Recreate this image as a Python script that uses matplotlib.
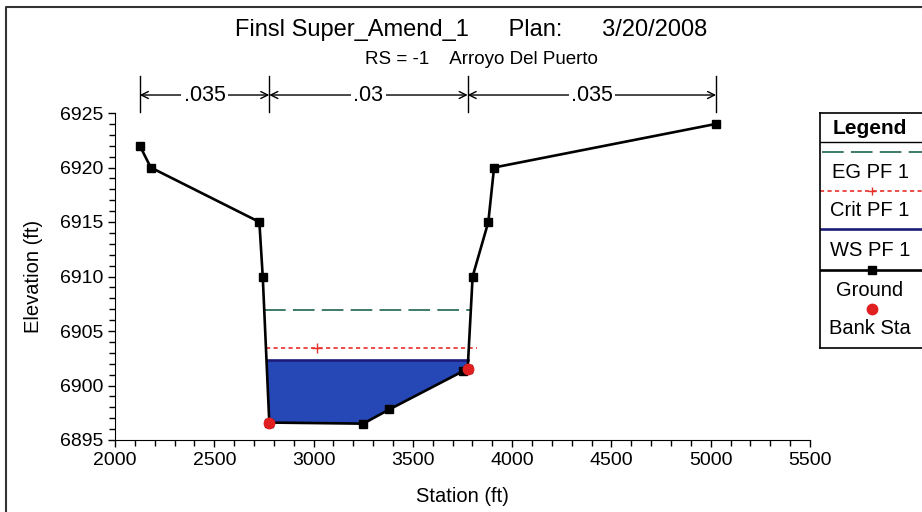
import numpy as np
import matplotlib.pyplot as plt
from matplotlib.ticker import MultipleLocator

plt.rcParams['font.family'] = ['Liberation Sans', 'DejaVu Sans']

# cross section ground points (station ft, elevation ft)
station = [2125, 2180, 2727, 2744, 2777, 3250, 3381, 3751, 3776, 3801, 3880, 3909, 5027]
elev = [6922.0, 6920.0, 6915.0, 6910.0, 6896.6, 6896.5, 6897.8, 6901.3, 6901.5, 6910.0, 6915.0, 6920.0, 6924.0]

bank_sta = [2777, 3776]
bank_elev = [6896.6, 6901.5]

ws_pf1 = 6902.3
crit_pf1 = 6903.4
eg_pf1 = 6906.9
crit_mark_sta = 3015

n_bounds = [2125, 2777, 3776, 5027]
n_values = ['.035', '.03', '.035']

st = np.array(station, dtype=float)
el = np.array(elev, dtype=float)


def wet_limits(level):
    # walk outward from the thalweg until the ground rises above the level
    i0 = int(np.argmin(el))
    i = i0
    while i > 0 and el[i - 1] < level:
        i -= 1
    xl = np.interp(level, [el[i], el[i - 1]], [st[i], st[i - 1]])
    j = i0
    while j < len(el) - 1 and el[j + 1] < level:
        j += 1
    xr = np.interp(level, [el[j], el[j + 1]], [st[j], st[j + 1]])
    return xl, xr


W, H = 922, 512
fig = plt.figure(figsize=(W / 100, H / 100), dpi=100)
ax = fig.add_axes([115 / W, 1 - 440 / H, 695 / W, 327 / H])

# water fill under the WS line
xs = np.linspace(st[0], st[-1], 3000)
gs = np.interp(xs, st, el)
ax.fill_between(xs, gs, ws_pf1, where=gs < ws_pf1, color='#2548b6', lw=0, zorder=1)

wl, wr = wet_limits(ws_pf1)
ax.plot([wl, wr], [ws_pf1, ws_pf1], color='#1c1c78', lw=1.9, zorder=3)

cl, cr = wet_limits(crit_pf1)
ax.plot([cl, cr + 40], [crit_pf1, crit_pf1], color='#e8302a', lw=1.2,
        linestyle=(0, (2.5, 2)), zorder=3)
ax.plot([crit_mark_sta], [crit_pf1], marker='+', color='#e8302a', ms=7, mew=1, zorder=3)

el_, er_ = wet_limits(eg_pf1)
ax.plot([el_, er_], [eg_pf1, eg_pf1], color='#2f6f5f', lw=1.3,
        linestyle=(0, (12, 4)), zorder=3)

ax.plot(station, elev, color='black', lw=1.9, marker='s', ms=5.5, zorder=4)
ax.plot(bank_sta, bank_elev, 'o', color='#e02020', ms=7.5, zorder=5)

ax.set_xlim(2000, 5500)
ax.set_ylim(6895, 6925)
ax.xaxis.set_major_locator(MultipleLocator(500))
ax.xaxis.set_minor_locator(MultipleLocator(100))
ax.yaxis.set_major_locator(MultipleLocator(5))
ax.yaxis.set_minor_locator(MultipleLocator(1))
ax.tick_params(which='both', direction='out', labelsize=14, width=1)
ax.tick_params(which='major', length=5)
ax.tick_params(which='minor', length=4)
for s in ['top', 'right']:
    ax.spines[s].set_visible(False)
ax.set_xlabel('Station (ft)', fontsize=14.5, labelpad=13)
ax.set_ylabel('Elevation (ft)', fontsize=14.5, labelpad=12)

# Manning's n regions above the plot
tr = ax.get_xaxis_transform()
for b in n_bounds:
    ax.plot([b, b], [1.003, 1.113], transform=tr, color='black', lw=1, clip_on=False)
for a, b, n in zip(n_bounds[:-1], n_bounds[1:], n_values):
    ax.annotate('', xy=(a, 1.055), xytext=(b, 1.055), xycoords=tr, textcoords=tr,
                arrowprops=dict(arrowstyle='<->,head_length=0.5,head_width=0.25',
                                lw=1, color='black', shrinkA=0, shrinkB=0))
    ax.text((a + b) / 2, 1.055, n, transform=tr, ha='center', va='center',
            fontsize=15.5, bbox=dict(fc='white', ec='none', pad=1.5))

fig.text(471 / W, 1 - 30 / H, 'Finsl Super_Amend_1      Plan:      3/20/2008',
         ha='center', va='center', fontsize=17)
fig.text(481 / W, 1 - 59 / H, 'RS = -1    Arroyo Del Puerto',
         ha='center', va='center', fontsize=13.5)

# outer frame
frame = fig.add_axes([0, 0, 1, 1], zorder=-1)
frame.set_xlim(0, W)
frame.set_ylim(H, 0)
frame.axis('off')
frame.plot([6, 6, W], [H, 7, 7], color='#333333', lw=1.5)

# legend box
lg = fig.add_axes([820 / W, 1 - 348 / H, 110 / W, 235 / H])
lg.set_xlim(820, 930)
lg.set_ylim(348, 113)
lg.set_xticks([])
lg.set_yticks([])
for s in lg.spines.values():
    s.set_linewidth(1.2)
cx = 870
lfs = 14.5
lg.text(cx, 128, 'Legend', ha='center', va='center', fontsize=15, fontweight='bold')
lg.plot([820, 930], [142, 142], color='black', lw=1)
lg.plot([822, 925], [152, 152], color='#2f6f5f', lw=1.3, linestyle=(0, (12, 4)))
lg.text(cx, 172, 'EG PF 1', ha='center', va='center', fontsize=lfs)
lg.plot([820, 925], [191, 191], color='#e8302a', lw=1.2, linestyle=(0, (2.5, 2)))
lg.plot([cx + 2], [191], marker='+', color='#e8302a', ms=6)
lg.text(cx, 210, 'Crit PF 1', ha='center', va='center', fontsize=lfs)
lg.plot([820, 925], [229, 229], color='#1c1c78', lw=1.9)
lg.text(cx, 250, 'WS PF 1', ha='center', va='center', fontsize=lfs)
lg.plot([820, 925], [270, 270], color='black', lw=1.9)
lg.plot([cx + 2], [270], marker='s', color='black', ms=5.5)
lg.text(cx, 290, 'Ground', ha='center', va='center', fontsize=lfs)
lg.plot([cx + 2], [309], 'o', color='#e02020', ms=7.5)
lg.text(cx, 328, 'Bank Sta', ha='center', va='center', fontsize=lfs)

fig.savefig('out.png', dpi=100)
